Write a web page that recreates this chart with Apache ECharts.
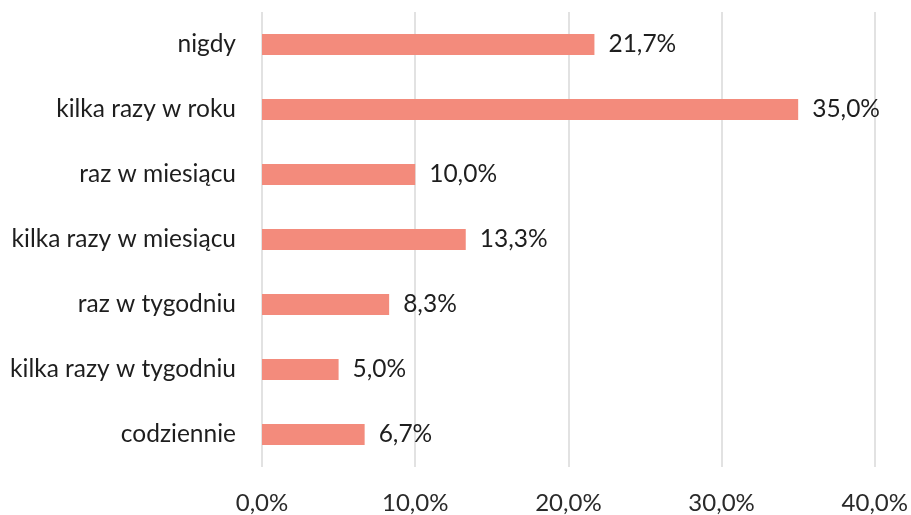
<!DOCTYPE html>
<html>
<head>
<meta charset="utf-8">
<script src="https://cdn.jsdelivr.net/npm/echarts@6/dist/echarts.min.js"></script>
<style>
  html, body { margin: 0; padding: 0; background: #fff; }
  #chart { width: 911px; height: 515px; }
</style>
</head>
<body>
<div id="chart"></div>
<script>
var categories = ['nigdy', 'kilka razy w roku', 'raz w miesiącu', 'kilka razy w miesiącu',
                  'raz w tygodniu', 'kilka razy w tygodniu', 'codziennie'];
var values = [21.7, 35.0, 10.0, 13.3, 8.3, 5.0, 6.7];

function pl(v) {
    return v.toFixed(1).replace('.', ',') + '%';
}

var chart = echarts.init(document.getElementById('chart'));
chart.setOption({
    animation: false,
    textStyle: { fontFamily: 'Lato' },
    grid: { left: 262, right: 36, top: 12, bottom: 48 },
    xAxis: {
        type: 'value',
        min: 0,
        max: 40,
        interval: 10,
        axisLine: { show: false },
        axisTick: { show: false },
        splitLine: { lineStyle: { color: '#d9d9d9', width: 1.5 } },
        axisLabel: {
            formatter: function(v) { return pl(v); },
            fontSize: 24,
            color: '#2a2a2a',
            margin: 24
        }
    },
    yAxis: {
        type: 'category',
        inverse: true,
        data: categories,
        axisLine: { show: false },
        axisTick: { show: false },
        axisLabel: { fontSize: 24.5, color: '#1e1e1e', margin: 26 }
    },
    series: [{
        type: 'bar',
        data: values,
        barWidth: 21,
        itemStyle: { color: '#f38b7c' },
        label: {
            show: true,
            position: 'right',
            distance: 14,
            fontSize: 24.5,
            color: '#1e1e1e',
            formatter: function(p) { return pl(p.value); }
        }
    }]
});
</script>
</body>
</html>
